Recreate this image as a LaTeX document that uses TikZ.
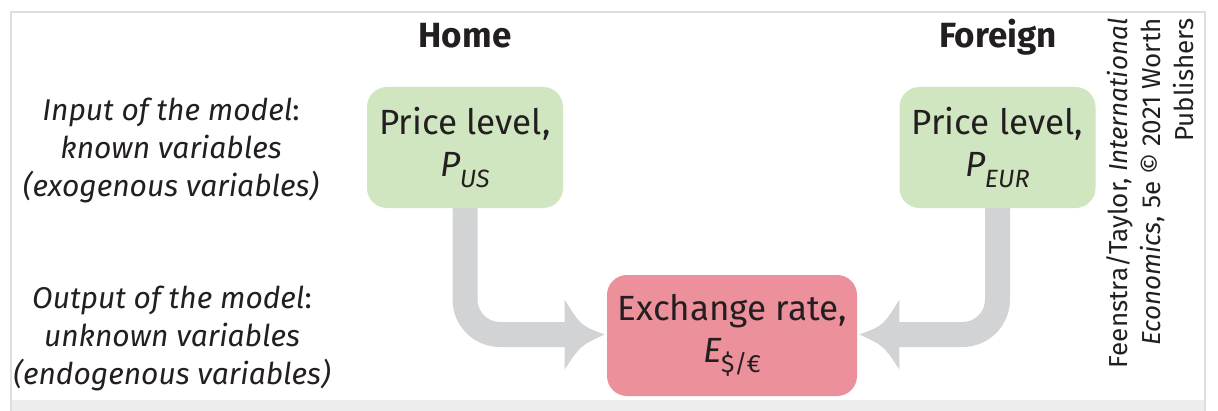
\documentclass[tikz,border=0pt]{standalone}
\usepackage{fontspec}
\setmainfont{Fira Sans}
\definecolor{boxgreen}{RGB}{208,230,192}
\definecolor{boxred}{RGB}{236,144,155}
\definecolor{arrowgray}{RGB}{210,211,213}
\definecolor{framegray}{RGB}{222,222,222}
\definecolor{bandgray}{RGB}{237,237,237}
\definecolor{inkgray}{RGB}{35,31,32}
\newcommand{\subvar}[2]{{\itshape #1\kern-0.3pt\raisebox{-0.55ex}{\fontsize{12.5}{12.5}\selectfont #2}}}
\begin{document}
\begin{tikzpicture}[x=0.5pt,y=-0.5pt,
  every node/.style={text=inkgray, inner sep=0pt},
  gbox/.style={fill=boxgreen, rounded corners=10pt, minimum width=98pt, minimum height=60.5pt,
    align=center, font=\fontsize{17.5}{20}\selectfont},
  rbox/.style={fill=boxred, rounded corners=10pt, minimum width=125pt, minimum height=60.5pt,
    align=center, font=\fontsize{17.5}{20}\selectfont},
  head/.style={font=\fontsize{17.5}{20}\selectfont\bfseries, anchor=base},
  sidelabel/.style={align=center, font=\fontsize{15}{19}\selectfont\itshape},
  stem/.style={draw=arrowgray, line width=12.5pt, rounded corners=17.5pt},
  tipfill/.style={fill=arrowgray}
]
\useasboundingbox (0,0) rectangle (1218,411);
\fill[framegray] (10,11) rectangle (1206,411);
\fill[white] (12,13) rectangle (1204,400);
\fill[bandgray] (12,400) rectangle (1204,411);

% headings
\node[head] (hhome) at (465,48) {Home};
\node[head] (hforeign) at (998,48) {Foreign};

% side labels
\node[sidelabel] (inlab) at (171,150) {Input of the model\upshape{:}\\known variables\\(exogenous variables)};
\node[sidelabel] (outlab) at (172,338) {Output of the model\upshape{:}\\unknown variables\\(endogenous variables)};

% stems (drawn first, boxes on top)
\coordinate (hs) at (465,208);
\coordinate (fs) at (997.5,207);
\node[rbox] (ex) at (732,335.5) {Exchange rate,\\[1pt]{\itshape E}\kern-0.3pt\raisebox{-0.55ex}{\fontsize{12.5}{12.5}\selectfont\$/€}};
\draw[stem] (hs) |- ([xshift=-20.5pt,yshift=0.5pt]ex.west);
\draw[stem] (fs) |- ([xshift=20.5pt,yshift=0.5pt]ex.east);

% arrow heads
\fill[tipfill] ([xshift=-21pt,yshift=18pt]ex.west) .. controls ([xshift=-13pt,yshift=5pt]ex.west) .. ([xshift=-1pt,yshift=0.5pt]ex.west)
   .. controls ([xshift=-13pt,yshift=-5pt]ex.west) .. ([xshift=-21pt,yshift=-17pt]ex.west) -- cycle;
\fill[tipfill] ([xshift=21pt,yshift=18pt]ex.east) .. controls ([xshift=13pt,yshift=5pt]ex.east) .. ([xshift=1pt,yshift=0.5pt]ex.east)
   .. controls ([xshift=13pt,yshift=-5pt]ex.east) .. ([xshift=21pt,yshift=-17pt]ex.east) -- cycle;

% green boxes
\node[gbox] (home) at (465,147.5) {Price level,\\[1pt]\subvar{P}{US}};
\node[gbox] (foreign) at (997.5,147.5) {Price level,\\[1pt]\subvar{P}{EUR}};

% credit
\node[rotate=90, anchor=east, align=right, font=\fontsize{13}{16.5}\selectfont] (credit) at (1150,18)
  {Feenstra/Taylor, \textit{International}\\\textit{Economics}, 5e © 2021 Worth\\Publishers};
\end{tikzpicture}
\end{document}
